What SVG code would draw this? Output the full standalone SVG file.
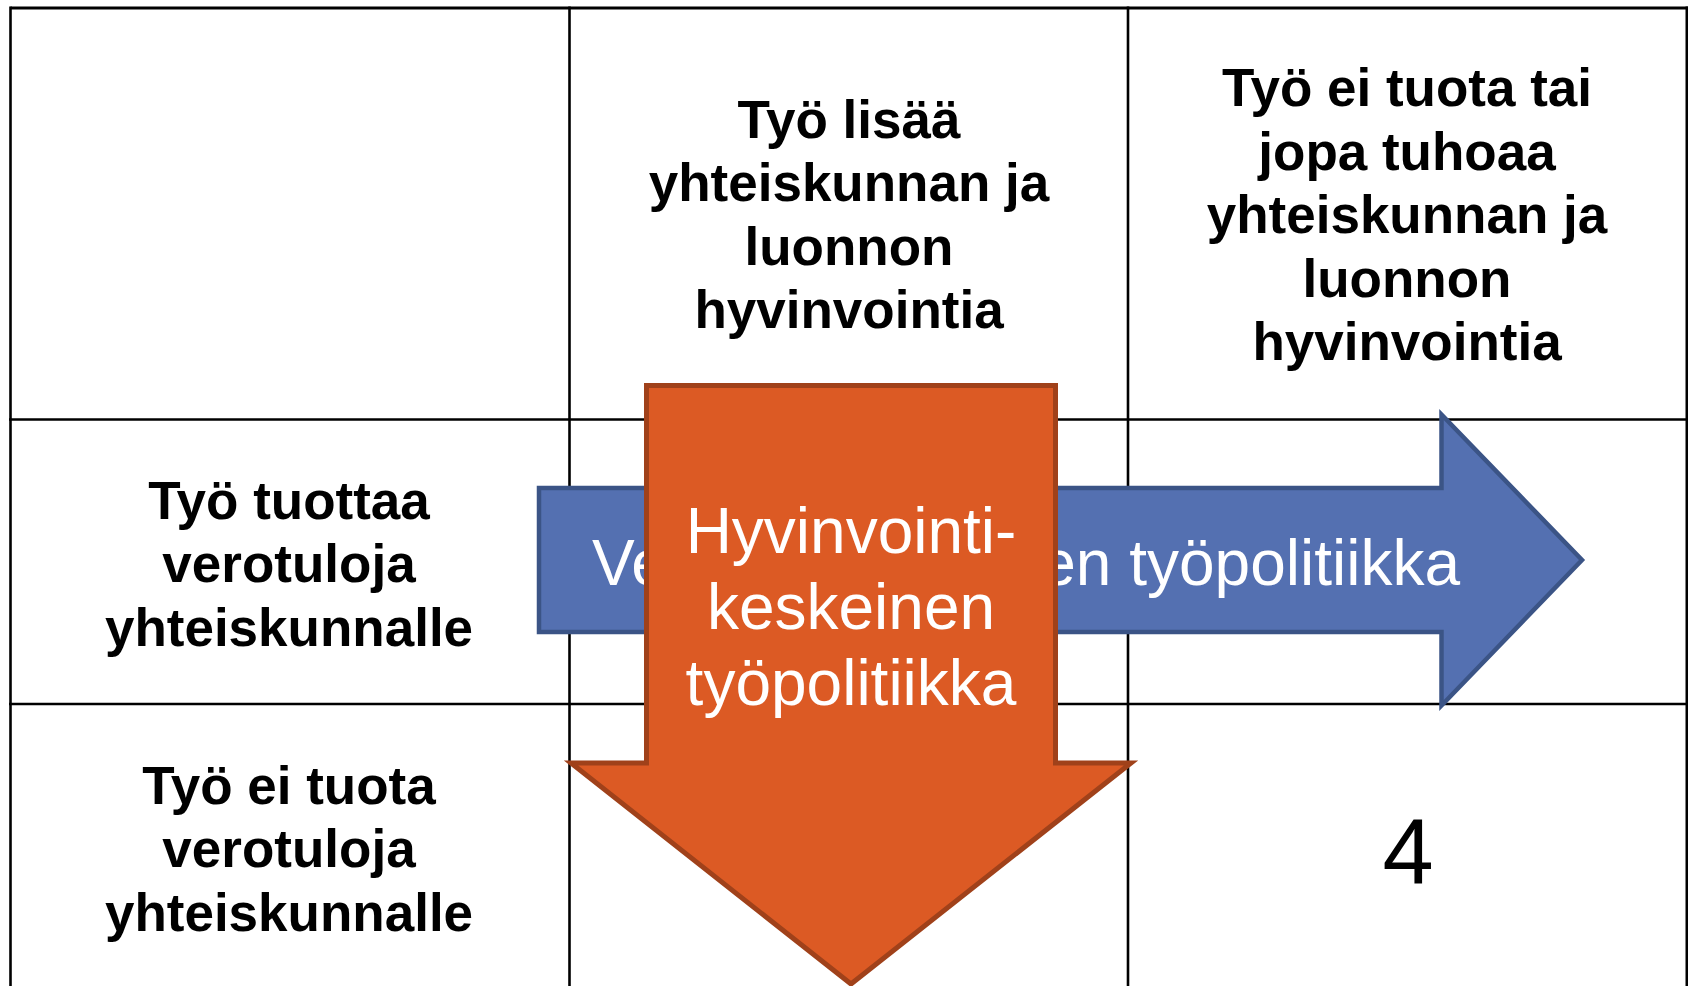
<svg xmlns="http://www.w3.org/2000/svg" width="1688" height="986" viewBox="0 0 1688 986">
<defs>
<style>
.grid{stroke:#000;stroke-width:2.6;fill:none}
.hdr{font-family:"Liberation Sans",Arial,sans-serif;font-weight:bold;font-size:53px;fill:#000;text-anchor:middle}
.num{font-family:"Liberation Sans",Arial,sans-serif;font-size:92px;fill:#000;text-anchor:middle}
.arrtxt{font-family:"Liberation Sans",Arial,sans-serif;font-size:64px;fill:#fff;text-anchor:middle}
.blue{fill:#5470B1;stroke:#3B5486;stroke-width:4.5;stroke-linejoin:miter;stroke-miterlimit:10}
.orange{fill:#DC5A24;stroke:#A0411A;stroke-width:5;stroke-linejoin:miter;stroke-miterlimit:10}
</style>
</defs>
<rect width="1688" height="986" fill="#fff"/>
<g id="grid">
<line class="grid" x1="10.5" y1="8" x2="1688" y2="8" style="stroke-width:3"/>
<line class="grid" x1="10.5" y1="6.5" x2="10.5" y2="986"/>
<line class="grid" x1="569.5" y1="6.5" x2="569.5" y2="986"/>
<line class="grid" x1="1128" y1="6.5" x2="1128" y2="986"/>
<line class="grid" x1="1686.8" y1="6.5" x2="1686.8" y2="986"/>
<line class="grid" x1="9" y1="419.5" x2="1688" y2="419.5"/>
<line class="grid" x1="9" y1="704" x2="1688" y2="704"/>
</g>
<g id="header-col1">
<text class="hdr"><tspan x="849" y="137.5">Työ lisää</tspan><tspan x="849" y="201">yhteiskunnan ja</tspan><tspan x="849" y="264.5">luonnon</tspan><tspan x="849" y="328">hyvinvointia</tspan></text>
</g>
<g id="header-col2">
<text class="hdr"><tspan x="1407" y="106">Työ ei tuota tai</tspan><tspan x="1407" y="169.5">jopa tuhoaa</tspan><tspan x="1407" y="233">yhteiskunnan ja</tspan><tspan x="1407" y="296.5">luonnon</tspan><tspan x="1407" y="360">hyvinvointia</tspan></text>
</g>
<g id="row1-label">
<text class="hdr"><tspan x="289" y="518.5">Työ tuottaa</tspan><tspan x="289" y="582">verotuloja</tspan><tspan x="289" y="645.5">yhteiskunnalle</tspan></text>
</g>
<g id="row2-label">
<text class="hdr"><tspan x="289" y="803.5">Työ ei tuota</tspan><tspan x="289" y="867">verotuloja</tspan><tspan x="289" y="930.5">yhteiskunnalle</tspan></text>
</g>
<g id="cell-4">
<text class="num" x="1408" y="883">4</text>
</g>
<g id="arrow-verotulo">
<path class="blue" d="M539,488 L1441.5,488 L1441.5,414.5 L1582,560 L1441.5,705.5 L1441.5,632 L539,632 Z"/>
<text class="arrtxt" x="592" y="585" style="text-anchor:start">Ve</text>
<text class="arrtxt" x="1460" y="585" style="text-anchor:end">en työpolitiikka</text>
</g>
<g id="arrow-hyvinvointi">
<path class="orange" d="M646.5,385.5 L1055.5,385.5 L1055.5,763 L1131,763 L851,984 L571,763 L646.5,763 Z"/>
<text class="arrtxt"><tspan x="851" y="553">Hyvinvointi-</tspan><tspan x="851" y="629">keskeinen</tspan><tspan x="851" y="705">työpolitiikka</tspan></text>
</g>
</svg>
